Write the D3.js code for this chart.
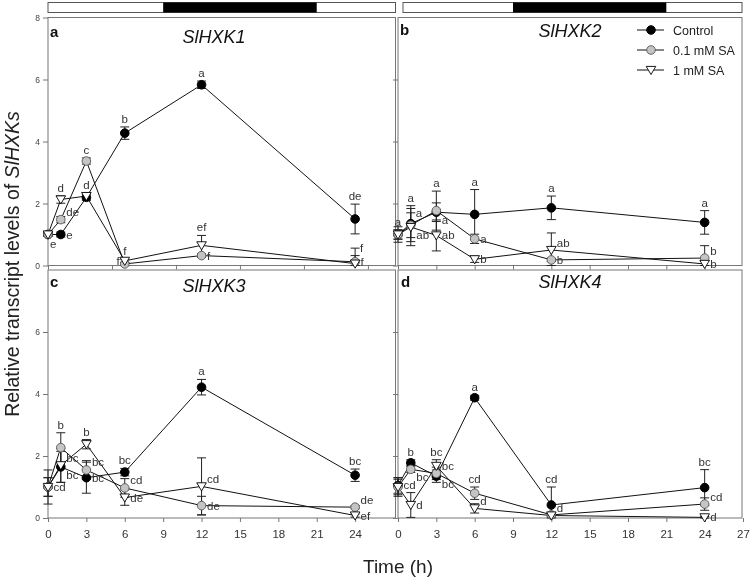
<!DOCTYPE html>
<html><head><meta charset="utf-8">
<script src="https://cdn.jsdelivr.net/npm/d3@7"></script>
<style>body{margin:0;background:#fff} svg{display:block;font-family:"Liberation Sans",Arial,sans-serif;filter:grayscale(1)}</style>
</head><body><svg id="c" width="750" height="581"></svg>
<script>
// ---------- DATA ----------
const times = [0, 1, 3, 6, 12, 24];
const seriesNames = ["Control", "0.1 mM SA", "1 mM SA"];
const genes = ["SlHXK1", "SlHXK2", "SlHXK3", "SlHXK4"];
const panelLetters = ["a", "b", "c", "d"];
const darkPeriod = [9, 21];
const yTicksTop = [0, 2, 4, 6, 8];
const yTicksBottom = [0, 2, 4, 6];
const xTicks3 = [0, 3, 6, 9, 12, 15, 18, 21, 24];
const xTicks3Full = [0, 3, 6, 9, 12, 15, 18, 21, 24, 27];
const xTicks5 = [0, 5, 10, 15, 20, 25];

// SlHXK1
const hxk1Control = [1.0, 1.0, 2.2, 4.27, 5.83, 1.5];
const hxk1ControlErr = [0.05, 0.08, 0.1, 0.2, 0.12, 0.48];
const hxk1Sa01 = [1.0, 1.48, 3.37, 0.05, 0.32, 0.12];
const hxk1Sa01Err = [0.05, 0.1, 0.1, 0.05, 0.06, 0.2];
const hxk1Sa1 = [1.0, 2.13, 2.24, 0.15, 0.65, 0.06];
const hxk1Sa1Err = [0.05, 0.12, 0.1, 0.05, 0.32, 0.5];
const hxk1ControlLet = ["e", "e", null, "b", "a", "de"];
const hxk1Sa01Let = [null, "de", "c", "f", "f", "f"];
const hxk1Sa1Let = [null, "d", "d", "f", "ef", "f"];
// SlHXK2
const hxk2Control = [1.0, 1.35, 1.72, 1.65, 1.86, 1.39];
const hxk2ControlErr = [0.15, 0.58, 0.3, 0.8, 0.38, 0.38];
const hxk2Sa01 = [1.0, 1.3, 1.77, 0.86, 0.18, 0.24];
const hxk2Sa01Err = [0.15, 0.4, 0.63, 0.15, 0.05, 0.4];
const hxk2Sa1 = [1.0, 1.24, 0.97, 0.2, 0.5, 0.05];
const hxk2Sa1Err = [0.25, 0.6, 0.5, 0.1, 0.55, 0.1];
const hxk2ControlLet = ["a", "a", "a", "a", "a", "a"];
const hxk2Sa01Let = [null, "a", "a", "a", "b", "b"];
const hxk2Sa1Let = [null, "ab", "ab", "b", "ab", "b"];
// SlHXK3
const hxk3Control = [1.0, 1.65, 1.3, 1.48, 4.22, 1.38];
const hxk3ControlErr = [0.55, 0.5, 0.5, 0.12, 0.25, 0.2];
const hxk3Sa01 = [1.0, 2.27, 1.55, 0.97, 0.4, 0.35];
const hxk3Sa01Err = [0.3, 0.48, 0.3, 0.3, 0.3, 0.05];
const hxk3Sa1 = [1.0, 1.7, 2.38, 0.66, 1.02, 0.08];
const hxk3Sa1Err = [0.3, 0.55, 0.15, 0.25, 0.92, 0.05];
const hxk3ControlLet = ["cd", "bc", "bc", "bc", "a", "bc"];
const hxk3Sa01Let = [null, "b", "bc", "cd", "de", "de"];
const hxk3Sa1Let = [null, "bc", "b", "de", "cd", "ef"];
// SlHXK4
const hxk4Control = [1.05, 1.78, 1.35, 3.88, 0.42, 0.98];
const hxk4ControlErr = [0.25, 0.1, 0.2, 0.08, 0.58, 0.58];
const hxk4Sa01 = [1.0, 1.57, 1.44, 0.8, 0.1, 0.45];
const hxk4Sa01Err = [0.3, 0.1, 0.2, 0.2, 0.05, 0.2];
const hxk4Sa1 = [1.0, 0.42, 1.68, 0.31, 0.08, 0.02];
const hxk4Sa1Err = [0.25, 0.4, 0.2, 0.15, 0.05, 0.03];
const hxk4ControlLet = ["cd", "b", "bc", "a", "cd", "bc"];
const hxk4Sa01Let = [null, "bc", "bc", "cd", null, "cd"];
const hxk4Sa1Let = [null, "d", "bc", "d", "d", "d"];

// letter placement codes (layout only)
const place = [
  [["bl","r","a","a","a","a"], [null,"ru","a","l","r","r"], [null,"a","a","a","a","e"]],
  [["a","a","rd","a","a","a"], [null,"e","a","r","r","ru"], [null,"rd","r","r","ru","r"]],
  [["r","rd","r","a","a","a"], [null,"a","ru","ru","r","ru"], [null,"ru","a","r","ru","r"]],
  [["r","a","rd","a","a","a"], [null,"rd","ru","a",null,"ru"], [null,"r","a","ru","ru","r"]]
];

const panelData = [
  [[hxk1Control,hxk1ControlErr,hxk1ControlLet],[hxk1Sa01,hxk1Sa01Err,hxk1Sa01Let],[hxk1Sa1,hxk1Sa1Err,hxk1Sa1Let]],
  [[hxk2Control,hxk2ControlErr,hxk2ControlLet],[hxk2Sa01,hxk2Sa01Err,hxk2Sa01Let],[hxk2Sa1,hxk2Sa1Err,hxk2Sa1Let]],
  [[hxk3Control,hxk3ControlErr,hxk3ControlLet],[hxk3Sa01,hxk3Sa01Err,hxk3Sa01Let],[hxk3Sa1,hxk3Sa1Err,hxk3Sa1Let]],
  [[hxk4Control,hxk4ControlErr,hxk4ControlLet],[hxk4Sa01,hxk4Sa01Err,hxk4Sa01Let],[hxk4Sa1,hxk4Sa1Err,hxk4Sa1Let]]
];

// ---------- LAYOUT ----------
const svg = d3.select("#c");
const axisColor = "#777";
const xLeft = d3.scaleLinear().domain([0, 27]).range([48, 393.5]);
const xRight = d3.scaleLinear().domain([0, 27]).range([398, 743]);
const yTop = d3.scaleLinear().domain([0, 8]).range([265.5, 17.5]);
const yBot = d3.scaleLinear().domain([0, 8]).range([518, 270]);

const panels = [
  {x: xLeft, y: yTop, fx0: 48, fx1: 395.5, titleX: 214, titleY: 43, letterX: 50, letterY: 37,
   yLabels: true, yTicks: yTicksTop, xTicks: xTicks5, xLabels: false},
  {x: xRight, y: yTop, fx0: 398, fx1: 742, titleX: 570, titleY: 37, letterX: 400, letterY: 35,
   yLabels: false, yTicks: yTicksBottom, xTicks: xTicks3, xLabels: false},
  {x: xLeft, y: yBot, fx0: 48, fx1: 395.5, titleX: 214, titleY: 292, letterX: 50, letterY: 287,
   yLabels: true, yTicks: yTicksBottom, xTicks: xTicks3, xLabels: true},
  {x: xRight, y: yBot, fx0: 398, fx1: 742, titleX: 570, titleY: 288, letterX: 401, letterY: 287,
   yLabels: false, yTicks: yTicksBottom, xTicks: xTicks3Full, xLabels: true}
];

// light/dark bars
[[xLeft, 48, 395.5], [xRight, 403, 742]].forEach(([xs, a, b]) => {
  svg.append("rect").attr("x", a).attr("y", 2.5).attr("width", b - a).attr("height", 10)
    .attr("fill", "#fff").attr("stroke", "#555").attr("stroke-width", 1);
  svg.append("rect").attr("x", xs(darkPeriod[0])).attr("y", 2.5)
    .attr("width", xs(darkPeriod[1]) - xs(darkPeriod[0])).attr("height", 10).attr("fill", "#000");
});

function drawMarker(g, k, cx, cy) {
  if (k === 0) {
    g.append("circle").attr("cx", cx).attr("cy", cy).attr("r", 4.3).attr("fill", "#000").attr("stroke", "#000");
  } else if (k === 1) {
    g.append("circle").attr("cx", cx).attr("cy", cy).attr("r", 4.3).attr("fill", "#c4c4c4").attr("stroke", "#555").attr("stroke-width", 0.9);
  } else {
    const s = 4.8;
    g.append("path").attr("d", `M${cx - s},${cy - s * 0.75}L${cx + s},${cy - s * 0.75}L${cx},${cy + s * 0.95}Z`)
      .attr("fill", "#fff").attr("stroke", "#000").attr("stroke-width", 0.9);
  }
}

panels.forEach((p, pi) => {
  const g = svg.append("g");
  const y0 = p.y.range()[0], y1 = p.y.range()[1];
  g.append("rect").attr("x", p.fx0).attr("y", y1).attr("width", p.fx1 - p.fx0).attr("height", y0 - y1)
    .attr("fill", "none").attr("stroke", axisColor).attr("stroke-width", 1);
  const ya = d3.axisLeft(p.y).tickValues(p.yTicks).tickSize(5).tickPadding(3)
    .tickFormat(p.yLabels ? d3.format("d") : () => "");
  const yg = g.append("g").attr("transform", `translate(${p.fx0},0)`).call(ya);
  yg.select(".domain").remove();
  yg.selectAll("line").attr("stroke", axisColor);
  yg.selectAll("text").attr("font-size", 8.5).attr("fill", "#444").attr("font-family", "Liberation Sans, Arial, sans-serif");
  const xa = d3.axisBottom(p.x).tickValues(p.xTicks).tickSize(4).tickPadding(8)
    .tickFormat(p.xLabels ? d3.format("d") : () => "");
  const xg = g.append("g").attr("transform", `translate(0,${y0})`).call(xa);
  xg.select(".domain").remove();
  xg.selectAll("line").attr("stroke", axisColor);
  xg.selectAll("text").attr("font-size", 11.5).attr("fill", "#333").attr("font-family", "Liberation Sans, Arial, sans-serif");

  g.append("text").attr("x", p.titleX).attr("y", p.titleY).attr("text-anchor", "middle")
    .attr("font-size", 18).attr("font-style", "italic").attr("fill", "#111").text(genes[pi]);
  g.append("text").attr("x", p.letterX).attr("y", p.letterY)
    .attr("font-size", 15).attr("font-weight", "bold").attr("fill", "#111").text(panelLetters[pi]);

  panelData[pi].forEach((ser) => {
    const [vals] = ser;
    const line = d3.line().x((d, i) => p.x(times[i])).y(d => p.y(d));
    g.append("path").attr("d", line(vals)).attr("fill", "none").attr("stroke", "#111").attr("stroke-width", 1);
  });
  panelData[pi].forEach((ser) => {
    const [vals, errs] = ser;
    vals.forEach((v, i) => {
      const cx = p.x(times[i]);
      const top = p.y(v + errs[i]), bot = p.y(Math.max(0, v - errs[i]));
      g.append("line").attr("x1", cx).attr("x2", cx).attr("y1", top).attr("y2", bot).attr("stroke", "#222").attr("stroke-width", 1);
      [top, bot].forEach(yy => g.append("line").attr("x1", cx - 4.5).attr("x2", cx + 4.5).attr("y1", yy).attr("y2", yy)
        .attr("stroke", "#222").attr("stroke-width", 1));
    });
  });
  panelData[pi].forEach((ser, k) => {
    const [vals] = ser;
    vals.forEach((v, i) => drawMarker(g, k, p.x(times[i]), p.y(v)));
  });
  panelData[pi].forEach((ser, k) => {
    const [vals, errs, lets] = ser;
    lets.forEach((L, i) => {
      if (!L) return;
      const code = place[pi][k][i];
      const cx = p.x(times[i]), cy = p.y(vals[i]), et = p.y(vals[i] + errs[i]);
      let x = cx, yy = cy, anchor = "start";
      if (code === "a") { anchor = "middle"; yy = et - 4; }
      else if (code === "r") { x = cx + 5.5; yy = cy + 4; }
      else if (code === "ru") { x = cx + 5.5; yy = cy - 3.5; }
      else if (code === "rd") { x = cx + 5.5; yy = cy + 12; }
      else if (code === "e") { x = cx + 5; yy = et + 4; }
      else if (code === "l") { x = cx - 5; yy = cy + 1; anchor = "end"; }
      else if (code === "bl") { x = cx + 2; yy = cy + 13; }
      g.append("text").attr("x", x).attr("y", yy).attr("text-anchor", anchor)
        .attr("font-size", 11.5).attr("fill", "#333").text(L);
    });
  });
});

// legend
const lg = svg.append("g");
seriesNames.forEach((n, k) => {
  const yy = 30 + k * 20;
  lg.append("line").attr("x1", 637).attr("x2", 664).attr("y1", yy).attr("y2", yy).attr("stroke", "#111").attr("stroke-width", 1);
  drawMarker(lg, k, 651, yy);
  lg.append("text").attr("x", 673).attr("y", yy + 4.5).attr("font-size", 12.5).attr("fill", "#222").text(n);
});

// axis titles
const yt = svg.append("text").attr("transform", "translate(19,264) rotate(-90)").attr("text-anchor", "middle")
  .attr("font-size", 19.5).attr("fill", "#222");
yt.append("tspan").text("Relative transcript levels of ");
yt.append("tspan").attr("font-style", "italic").text("SlHXKs");
svg.append("text").attr("x", 398).attr("y", 573).attr("text-anchor", "middle").attr("font-size", 19).attr("fill", "#222").text("Time (h)");
</script></body></html>
